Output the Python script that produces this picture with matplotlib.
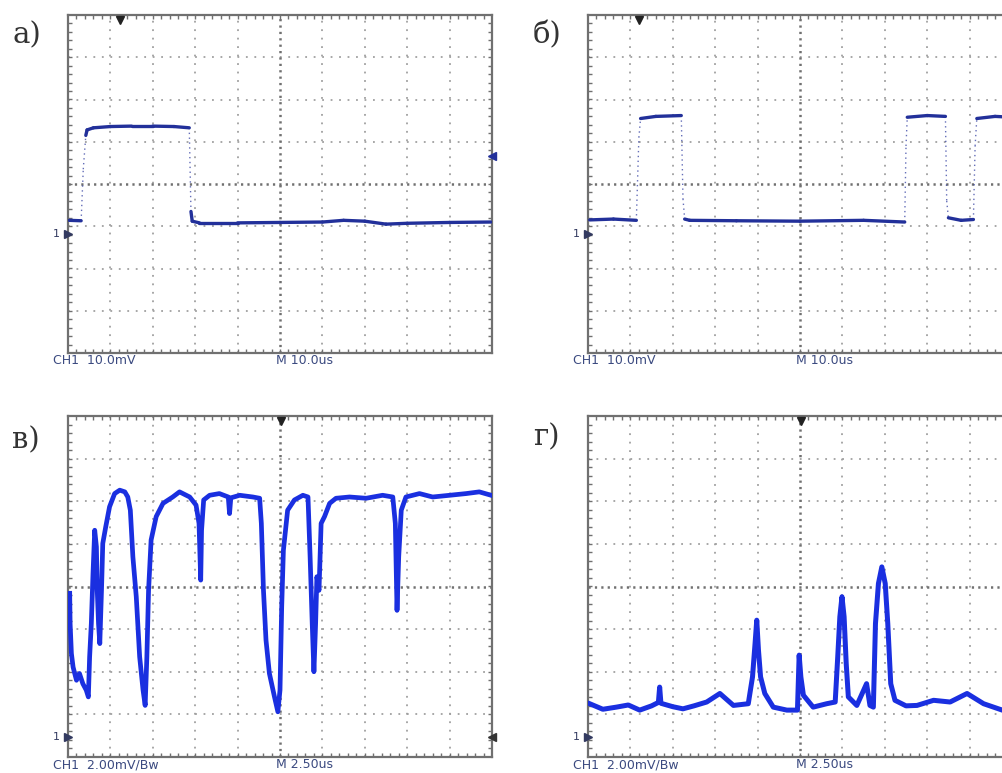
import numpy as np
import matplotlib
matplotlib.use("Agg")
import matplotlib.pyplot as plt

plt.rcParams["lines.scale_dashes"] = False

# traces in screen divisions (x: 0..10, y: -4..4)
# panel а
a_x = [0.03, 0.31, 0.36, 0.42, 0.45, 0.6, 1.0, 1.5, 2.0, 2.5, 2.86,
       2.9, 2.93, 3.1, 4.0, 5.0, 6.0, 6.5, 7.0, 7.5, 8.0, 9.0, 9.97]
a_y = [-0.86, -0.87, 0.35, 1.15, 1.28, 1.33, 1.36, 1.37, 1.37, 1.36, 1.33,
       -0.65, -0.88, -0.92, -0.92, -0.91, -0.9, -0.86, -0.88, -0.95, -0.93, -0.91, -0.9]

# panel б
b_x = [0.04, 0.6, 1.14, 1.2, 1.24, 1.6, 2.2, 2.24, 2.28, 2.4, 3.5, 5.0, 6.5, 7.47,
       7.5, 7.53, 8.0, 8.43, 8.46, 8.5, 8.8, 9.09, 9.13, 9.17, 9.6, 10.0]
b_y = [-0.85, -0.83, -0.86, 1.1, 1.55, 1.6, 1.62, -0.35, -0.83, -0.86, -0.87, -0.88, -0.86, -0.9,
       0.9, 1.58, 1.62, 1.6, -0.4, -0.8, -0.86, -0.84, 0.9, 1.55, 1.6, 1.58]

# panel в
c_x = [0.04, 0.05, 0.08, 0.12, 0.2, 0.27, 0.35, 0.43, 0.48, 0.51, 0.55, 0.59, 0.63, 0.67,
       0.69, 0.72, 0.75, 0.79, 0.82, 0.89, 0.98, 1.1, 1.22, 1.34, 1.41, 1.47, 1.53, 1.61,
       1.69, 1.77, 1.82, 1.86, 1.9, 1.96, 2.08, 2.24, 2.47, 2.63, 2.87, 3.02, 3.09, 3.13,
       3.15, 3.2, 3.34, 3.57, 3.78, 3.81, 3.84, 4.05, 4.36, 4.52, 4.56, 4.61, 4.67, 4.75,
       4.87, 4.95, 5.0, 5.04, 5.08, 5.18, 5.34, 5.54, 5.66, 5.71, 5.76, 5.8, 5.84, 5.87,
       5.92, 5.97, 6.05, 6.17, 6.32, 6.64, 7.03, 7.42, 7.66, 7.72, 7.76, 7.8, 7.86, 7.97,
       8.29, 8.6, 9.0, 9.39, 9.7, 9.98]
c_y = [-0.16, -0.87, -1.57, -1.89, -2.2, -2.04, -2.28, -2.43, -2.59, -1.65, -0.87, 0.31,
       1.32, 0.93, -0.09, -0.87, -1.34, -0.09, 1.01, 1.4, 1.87, 2.18, 2.26, 2.22, 2.1, 1.79,
       0.7, -0.24, -1.65, -2.43, -2.79, -1.65, -0.09, 1.09, 1.64, 1.95, 2.1, 2.22, 2.1, 1.91,
       1.48, 0.15, 1.32, 2.03, 2.14, 2.18, 2.1, 1.71, 2.08, 2.14, 2.1, 2.07, 1.48, -0.09,
       -1.26, -2.04, -2.59, -2.94, -2.43, -0.48, 0.85, 1.79, 2.03, 2.14, 2.1, 0.7, -0.87,
       -2.0, -0.87, 0.23, -0.09, 1.48, 1.64, 1.95, 2.07, 2.1, 2.07, 2.14, 2.1, 1.48, -0.56,
       0.7, 1.79, 2.1, 2.18, 2.1, 2.14, 2.18, 2.22, 2.14]

# panel г
d_x = [0.04, 0.35, 0.67, 0.95, 1.22, 1.5, 1.66, 1.69, 1.72, 2.0, 2.24, 2.5, 2.8, 3.11,
       3.43, 3.78, 3.88, 3.94, 3.98, 4.02, 4.07, 4.17, 4.37, 4.69, 4.94, 4.98, 5.02, 5.08,
       5.31, 5.63, 5.83, 5.89, 5.94, 5.99, 6.04, 6.09, 6.14, 6.34, 6.57, 6.65, 6.73, 6.78,
       6.85, 6.93, 7.01, 7.07, 7.14, 7.24, 7.5, 7.76, 8.15, 8.54, 8.94, 9.33, 9.77, 10.0]
d_y = [-2.75, -2.88, -2.83, -2.78, -2.9, -2.8, -2.72, -2.36, -2.74, -2.82, -2.87, -2.8,
       -2.71, -2.51, -2.79, -2.75, -2.12, -1.34, -0.79, -1.49, -2.12, -2.51, -2.83, -2.9,
       -2.9, -1.61, -2.12, -2.55, -2.83, -2.75, -2.71, -1.65, -0.71, -0.24, -0.71, -1.81,
       -2.59, -2.79, -2.28, -2.79, -2.83, -0.87, 0.07, 0.46, 0.07, -0.87, -2.28, -2.67,
       -2.8, -2.79, -2.67, -2.71, -2.51, -2.75, -2.9, -2.83]

labels = ["а)", "б)", "в)", "г)"]
ch_text = ["CH1  10.0mV", "CH1  10.0mV", "CH1  2.00mV/Bw", "CH1  2.00mV/Bw"]
m_text = ["M 10.0us", "M 10.0us", "M 2.50us", "M 2.50us"]
gnd_level = [-1.18, -1.18, -3.53, -3.53]
trig_pos = [1.22, 1.2, 5.03, 5.03]

W, H = 1002, 773
fig = plt.figure(figsize=(W / 100, H / 100), dpi=100)
fig.patch.set_facecolor("white")


def px_rect(left, top, width, height):
    return [left / W, 1 - (top + height) / H, width / W, height / H]


def scope_axes(rect):
    ax = fig.add_axes(rect)
    ax.set_xlim(0, 10)
    ax.set_ylim(-4, 4)
    dots = (0, (1.3, 4.8))
    for v in range(1, 10):
        if v != 5:
            ax.axvline(v, color="#a0a0a0", lw=1.3, ls=dots, zorder=1)
    for h in range(-3, 4):
        if h != 0:
            ax.axhline(h, color="#a0a0a0", lw=1.3, ls=dots, zorder=1)
    # centre lines: denser and darker
    ax.axvline(5, color="#707070", lw=1.8, ls=(0, (1.6, 3.0)), zorder=1)
    ax.axhline(0, color="#707070", lw=1.8, ls=(0, (1.6, 3.0)), zorder=1)
    xs = np.arange(0.2, 10, 0.2)
    ys = np.arange(-3.8, 4, 0.2)
    ax.set_xticks([])
    ax.set_yticks([])
    ax.set_xticks(xs, minor=True)
    ax.set_yticks(ys, minor=True)
    ax.tick_params(which="minor", direction="in", length=3, width=1, color="#707070",
                   top=True, right=True, labelbottom=False, labelleft=False)
    for s in ax.spines.values():
        s.set_color("#707070")
        s.set_linewidth(1.6)
    return ax


def draw_steps(ax, x, y, color):
    # flat parts solid, fast edges as faint dotted lines like a sampled scope edge
    x = np.asarray(x)
    y = np.asarray(y)
    for i in range(len(x) - 1):
        slope = abs(y[i + 1] - y[i]) / max(x[i + 1] - x[i], 1e-6)
        if slope > 8:
            ax.plot(x[i:i + 2], y[i:i + 2], color=color, lw=1.0, ls=(0, (1, 2.5)), alpha=0.7,
                    zorder=3)
        else:
            ax.plot(x[i:i + 2], y[i:i + 2], color=color, lw=2.4, solid_capstyle="round", zorder=3)


rects = [px_rect(68, 15, 424, 338), px_rect(588, 15, 424, 338),
         px_rect(68, 416, 424, 341), px_rect(588, 416, 424, 341)]
axes = [scope_axes(r) for r in rects]

draw_steps(axes[0], a_x, a_y, "#22309a")
draw_steps(axes[1], b_x, b_y, "#22309a")
axes[2].plot(c_x, c_y, color="#1a2fe0", lw=3.4, solid_joinstyle="round", zorder=3)
axes[3].plot(d_x, d_y, color="#1a2fe0", lw=3.6, solid_joinstyle="round", zorder=3)

label_pos = [(13, 35), (533, 35), (12, 440), (533, 437)]
for i, ax in enumerate(axes):
    ax.text(-0.36, -4.03, ch_text[i], ha="left", va="top", fontsize=9, color="#3b4a80",
            clip_on=False)
    ax.text(4.9, -4.03, m_text[i], ha="left", va="top", fontsize=9, color="#3b4a80",
            clip_on=False)
    ax.text(-0.2, gnd_level[i], "1", ha="right", va="center", fontsize=8, color="#333a60",
            clip_on=False)
    ax.plot([0.0], [gnd_level[i]], marker=">", ms=6, color="#333a60", clip_on=False, zorder=5)
    ax.plot([trig_pos[i]], [3.88], marker="v", ms=6, color="#222222", clip_on=False, zorder=5)
    lx, ly = label_pos[i]
    fig.text(lx / W, 1 - ly / H, labels[i], ha="left", va="center", fontsize=21,
             family="DejaVu Serif", color="#333333")

# trigger level markers on the right edge
axes[0].plot([10], [0.67], marker="<", ms=6, color="#22309a", clip_on=False, zorder=5)
axes[2].plot([10], [-3.53], marker="<", ms=6, color="#333333", clip_on=False, zorder=5)

fig.savefig("out.png", dpi=100, facecolor="white")
